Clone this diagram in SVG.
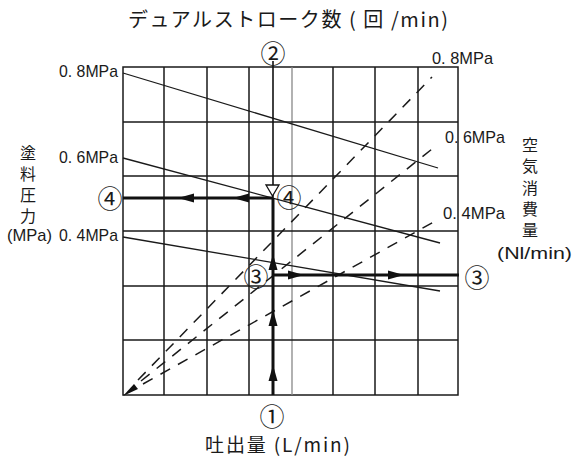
<svg xmlns="http://www.w3.org/2000/svg" width="575" height="459" viewBox="0 0 575 459">
<defs>
<style>
.grid{stroke:#1a1a1a;stroke-width:1.5;fill:none}
.gridl{stroke:#888;stroke-width:1.3;fill:none}
.pl{stroke:#1a1a1a;stroke-width:1.3;fill:none}
.dl{stroke:#1a1a1a;stroke-width:1.5;fill:none;stroke-dasharray:11 9}
.th{stroke:#111;stroke-width:3;fill:none}
.tn{stroke:#111;stroke-width:1.6;fill:none}
.ah{fill:#111}
.lat{font-family:"Liberation Sans","Noto Sans CJK JP",sans-serif;font-size:17px;fill:#1a1a1a}
.jp{font-family:"Noto Sans CJK JP",sans-serif;fill:#1a1a1a}
.vt{font-family:"Noto Sans CJK JP",sans-serif;fill:#1a1a1a;font-size:16px;writing-mode:vertical-rl;letter-spacing:5px}
.cn{font-family:"Noto Sans CJK JP",sans-serif;font-size:25px;fill:#1a1a1a;text-anchor:middle;dominant-baseline:central}
</style>
</defs>
<rect width="575" height="459" fill="#fff"/>
<g id="grid">
<rect class="grid" x="123" y="67" width="335" height="328"/>
<path class="grid" d="M164 67V395M207 67V395M249 67V395M333 67V395M375 67V395M418 67V395"/>
<path class="gridl" d="M292 67V395"/>
<path class="grid" d="M123 122H458M123 176H458M123 231H458M123 286H458M123 340H458"/>
</g>
<g id="pressure-lines">
<path class="pl" d="M123 73L438 168"/>
<path class="pl" d="M123 158L440 243"/>
<path class="pl" d="M123 237L440 291"/>
</g>
<g id="air-lines">
<path class="dl" d="M138 380L432 77"/>
<path class="dl" d="M141 381L437 145"/>
<path class="dl" d="M143 384L439 219"/>
<polygon class="ah" points="123,396 134,384 138,389"/>
</g>
<g id="connectors">
<path class="tn" d="M273 61V198"/>
<path class="th" d="M273 198V395"/>
<path class="th" d="M123 198H273"/>
<path class="th" d="M273 275H459"/>
<polygon class="ah" points="273,365 268.5,381 277.5,381"/>
<polygon class="ah" points="273,310 268.5,326 277.5,326"/>
<polygon class="ah" points="273,254 268.5,270 277.5,270"/>
<polygon class="ah" points="178,198 194,193.5 194,202.5"/>
<polygon class="ah" points="233,198 249,193.5 249,202.5"/>
<polygon class="ah" points="304,275 288,270.5 288,279.5"/>
<polygon class="ah" points="404,275 388,270.5 388,279.5"/>
<polygon points="266,185 279,185 272.5,196" fill="#fff" stroke="#111" stroke-width="1.3"/>
</g>
<g id="markers">
<text class="cn" x="273" y="52">②</text>
<text class="cn" x="110" y="197">④</text>
<text class="cn" x="289" y="196">④</text>
<text class="cn" x="256" y="275">③</text>
<text class="cn" x="477" y="276">③</text>
<text class="cn" x="272" y="415">①</text>
</g>
<g id="labels">
<text class="jp" x="128" y="27" font-size="20" textLength="320" lengthAdjust="spacing">デュアルストローク数 ( 回 /min)</text>
<text class="jp" x="205" y="452" font-size="19" textLength="145" lengthAdjust="spacing">吐出量 (L/min)</text>
<text class="lat" x="59" y="77" textLength="59" lengthAdjust="spacingAndGlyphs">0. 8MPa</text>
<text class="lat" x="59" y="163" textLength="59" lengthAdjust="spacingAndGlyphs">0. 6MPa</text>
<text class="lat" x="59" y="241" textLength="59" lengthAdjust="spacingAndGlyphs">0. 4MPa</text>
<text class="lat" x="7" y="241" textLength="45" lengthAdjust="spacingAndGlyphs">(MPa)</text>
<text class="lat" x="432" y="64" textLength="61" lengthAdjust="spacingAndGlyphs">0. 8MPa</text>
<text class="lat" x="445" y="143" textLength="60" lengthAdjust="spacingAndGlyphs">0. 6MPa</text>
<text class="lat" x="443" y="219" textLength="62" lengthAdjust="spacingAndGlyphs">0. 4MPa</text>
<text class="lat" x="497" y="259" textLength="75" lengthAdjust="spacingAndGlyphs">(Nl/min)</text>
<text class="vt" x="28" y="145">塗料圧力</text>
<text class="vt" x="530" y="137" style="letter-spacing:5.3px">空気消費量</text>
</g>
</svg>
